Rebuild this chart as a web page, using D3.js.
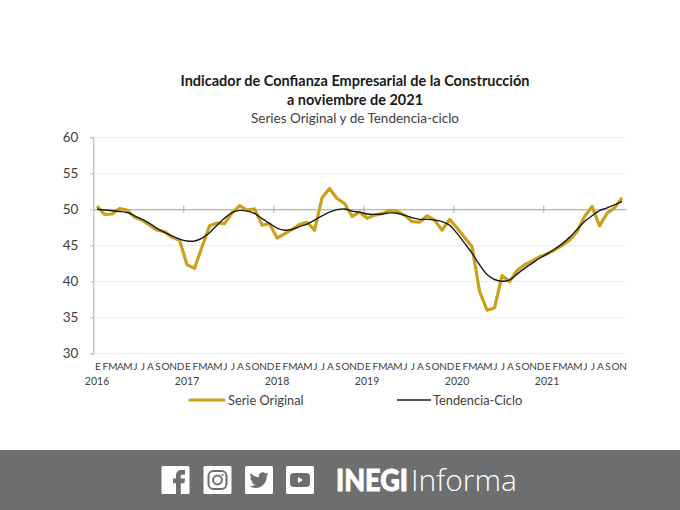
<!DOCTYPE html>
<html>
<head>
<meta charset="utf-8">
<script src="https://cdn.jsdelivr.net/npm/d3@7"></script>
<style>
  html, body { margin: 0; padding: 0; background: #fff; }
  svg { display: block; font-family: Lato, "Open Sans", sans-serif; }
</style>
</head>
<body>
<div id="chart"></div>
<script>
// Chart data
var months = ["E","F","M","A","M","J","J","A","S","O","N","D"];
var years = [2016, 2017, 2018, 2019, 2020, 2021];
var yTicks = [30, 35, 40, 45, 50, 55, 60];

var serieOriginal = [
  50.45, 49.3, 49.35, 50.1, 49.9, 48.9, 48.5, 47.8, 47.1, 46.9, 46.1, 45.7,
  42.3, 41.8, 44.8, 47.7, 48.1, 48.0, 49.5, 50.5, 49.9, 50.05, 47.8, 48.0,
  46.0, 46.6, 47.2, 47.9, 48.2, 47.1, 51.6, 52.9, 51.5, 50.8, 49.0, 49.6,
  48.75, 49.2, 49.4, 49.85, 49.75, 49.2, 48.3, 48.2, 49.1, 48.5, 47.1, 48.6,
  47.4, 46.1, 44.8, 38.6, 36.0, 36.3, 40.8, 39.95, 41.5, 42.3, 42.8, 43.4,
  43.8, 44.35, 45.0, 45.7, 46.9, 49.0, 50.4, 47.7, 49.45, 50.2, 51.6
];
var tendencia = [
  50.0, 49.9, 49.8, 49.7, 49.55, 49.1, 48.6, 48.05, 47.35, 46.8, 46.3, 45.85,
  45.6, 45.6, 46.0, 46.75, 47.8, 48.75, 49.55, 49.85, 49.75, 49.45, 48.7, 48.05,
  47.4, 47.1, 47.2, 47.6, 47.95, 48.5, 49.1, 49.6, 49.95, 50.05, 49.75, 49.6,
  49.35, 49.3, 49.35, 49.5, 49.45, 49.15, 48.85, 48.6, 48.6, 48.5, 48.3, 47.8,
  46.65, 45.3, 43.9, 42.3, 40.95, 40.25, 40.0, 40.2, 41.0, 41.8, 42.5, 43.2,
  43.8, 44.45, 45.2, 46.1, 47.2, 48.3, 49.1, 49.8, 50.2, 50.6, 51.1
];

var svgWidth = 680;
var svgHeight = 510;

var svg = d3.select("#chart")
  .append("svg")
  .attr("width", svgWidth)
  .attr("height", svgHeight);

var xScale = d3.scaleLinear().domain([0, serieOriginal.length]).range([93.3, 625.8]);
var yScale = d3.scaleLinear().domain([30, 60]).range([353.3, 137.3]);

// Titles
var titles = svg.append("g").attr("text-anchor", "middle").attr("fill", "#1a1a1a");
titles.append("text").attr("x", 355).attr("y", 86)
  .attr("font-size", 14.5).attr("font-weight", 700)
  .text("Indicador de Confianza Empresarial de la Construcción");
titles.append("text").attr("x", 355).attr("y", 105)
  .attr("font-size", 14.5).attr("font-weight", 700)
  .text("a noviembre de 2021");
titles.append("text").attr("x", 355).attr("y", 123)
  .attr("font-size", 13.5).attr("fill", "#404040")
  .text("Series Original y de Tendencia-ciclo");

// Gridlines
svg.append("g").selectAll("line")
  .data(yTicks)
  .enter()
  .append("line")
  .attr("x1", xScale(0))
  .attr("x2", xScale(71))
  .attr("y1", d => yScale(d))
  .attr("y2", d => yScale(d))
  .attr("stroke", "#ececec");

// Left axis
var leftAxis = d3.axisLeft(yScale).tickValues(yTicks).tickSize(3).tickPadding(12);
var leftGroup = svg.append("g")
  .attr("transform", `translate(${xScale(0)}, 0)`)
  .call(leftAxis);
leftGroup.select(".domain").attr("stroke", "#bdbdbd").attr("stroke-width", 1.2);
leftGroup.selectAll("line").attr("stroke", "#bdbdbd");
leftGroup.selectAll("text").attr("font-size", 13.5).attr("fill", "#404040").attr("font-family", "Lato");

// Axis line at 50 with the year marks
var yearAxis = d3.axisBottom(xScale)
  .tickValues(years.slice(1).map((d, i) => (i + 1) * 12))
  .tickSizeOuter(0)
  .tickFormat("");
var yearGroup = svg.append("g")
  .attr("transform", `translate(0, ${yScale(50)})`)
  .call(yearAxis);
yearGroup.select(".domain").attr("stroke", "#a6a6a6");
yearGroup.selectAll("line").attr("y1", -3.5).attr("y2", 3.5).attr("stroke", "#a6a6a6");

// Month labels
var monthAxis = d3.axisBottom(xScale)
  .tickValues(serieOriginal.map((d, i) => i + 0.5))
  .tickSize(0)
  .tickFormat(d => months[Math.floor(d) % 12]);
var monthGroup = svg.append("g")
  .attr("transform", "translate(0.4, 360)")
  .call(monthAxis);
monthGroup.select(".domain").remove();
monthGroup.selectAll("text").attr("font-size", 10).attr("fill", "#404040").attr("font-family", "Lato");

// Year labels
svg.append("g").selectAll("text")
  .data(years)
  .enter()
  .append("text")
  .attr("x", (d, i) => xScale(i * 12 + 0.5))
  .attr("y", 385)
  .attr("text-anchor", "middle")
  .attr("font-size", 10.5)
  .attr("fill", "#404040")
  .text(d => d);

// Series lines
var line = d3.line()
  .x((d, i) => xScale(i + 0.5))
  .y(d => yScale(d));

svg.append("path")
  .datum(serieOriginal)
  .attr("fill", "none")
  .attr("stroke", "#c9a11c")
  .attr("stroke-width", 3.2)
  .attr("stroke-linejoin", "round")
  .attr("d", line);

svg.append("path")
  .datum(tendencia)
  .attr("fill", "none")
  .attr("stroke", "#1a1a1a")
  .attr("stroke-width", 1.4)
  .attr("d", line.curve(d3.curveCatmullRom));

// Legend
var legend = svg.append("g");
legend.append("line").attr("x1", 190).attr("x2", 224).attr("y1", 400).attr("y2", 400)
  .attr("stroke", "#c9a11c").attr("stroke-width", 3.2).attr("stroke-linecap", "round");
legend.append("text").attr("x", 228).attr("y", 404.5).attr("font-size", 12.8).attr("fill", "#404040")
  .text("Serie Original");
legend.append("line").attr("x1", 397).attr("x2", 431).attr("y1", 400).attr("y2", 400)
  .attr("stroke", "#1a1a1a").attr("stroke-width", 1.4);
legend.append("text").attr("x", 433).attr("y", 404.5).attr("font-size", 12.8).attr("fill", "#404040")
  .text("Tendencia-Ciclo");

// Footer band
var footerGrey = "#6d6e70";
var footer = svg.append("g");
footer.append("rect").attr("x", 0).attr("y", 450).attr("width", svgWidth).attr("height", 60).attr("fill", footerGrey);

function iconBox(x) {
  var g = footer.append("g").attr("transform", `translate(${x}, 466)`);
  g.append("rect").attr("width", 28).attr("height", 28).attr("rx", 1.5).attr("fill", "#fff");
  return g;
}

// Facebook
iconBox(161.5).append("path")
  .attr("transform", "translate(3.1, -0.8) scale(1.2)")
  .attr("fill", footerGrey)
  .attr("d", "M14 8h3V4h-3c-2.8 0-4.5 1.9-4.5 4.6V11H7v4h2.5v9h4v-9h3l.5-4h-3.5V8.8c0-.5.3-.8 1-.8z");

// Instagram
var insta = iconBox(203.5);
insta.append("rect").attr("x", 5).attr("y", 5).attr("width", 18).attr("height", 18).attr("rx", 5)
  .attr("fill", "none").attr("stroke", footerGrey).attr("stroke-width", 2);
insta.append("circle").attr("cx", 14).attr("cy", 14).attr("r", 4.4)
  .attr("fill", "none").attr("stroke", footerGrey).attr("stroke-width", 2);
insta.append("circle").attr("cx", 19).attr("cy", 9).attr("r", 1.1).attr("fill", footerGrey);

// Twitter
iconBox(245).append("path")
  .attr("transform", "translate(4.5, 4.5) scale(0.8)")
  .attr("fill", footerGrey)
  .attr("d", "M23.953 4.57a10 10 0 01-2.825.775 4.958 4.958 0 002.163-2.723c-.951.555-2.005.959-3.127 1.184a4.92 4.92 0 00-8.384 4.482C7.69 8.095 4.067 6.13 1.64 3.162a4.822 4.822 0 00-.666 2.475c0 1.71.87 3.213 2.188 4.096a4.904 4.904 0 01-2.228-.616v.06a4.923 4.923 0 003.946 4.827 4.996 4.996 0 01-2.212.085 4.936 4.936 0 004.604 3.417 9.867 9.867 0 01-6.102 2.105c-.39 0-.779-.023-1.17-.067a13.995 13.995 0 007.557 2.209c9.053 0 13.998-7.496 13.998-13.985 0-.21 0-.42-.015-.63A9.935 9.935 0 0024 4.59z");

// YouTube
var yt = iconBox(286);
yt.append("rect").attr("x", 4).attr("y", 7).attr("width", 20).attr("height", 14).attr("rx", 4).attr("fill", footerGrey);
yt.append("path").attr("d", "M12 11l5 3-5 3z").attr("fill", "#fff");

// Logo text
footer.append("text").attr("x", 336).attr("y", 490.5)
  .attr("font-size", 30).attr("font-weight", 900).attr("fill", "#fff")
  .attr("stroke", "#fff").attr("stroke-width", 0.9)
  .attr("textLength", 72).attr("lengthAdjust", "spacingAndGlyphs")
  .text("INEGI");
footer.append("text").attr("x", 411).attr("y", 490.5)
  .attr("font-size", 30).attr("font-weight", 300).attr("fill", "#fff")
  .attr("font-family", "Open Sans")
  .text("Informa");
</script>
</body>
</html>
